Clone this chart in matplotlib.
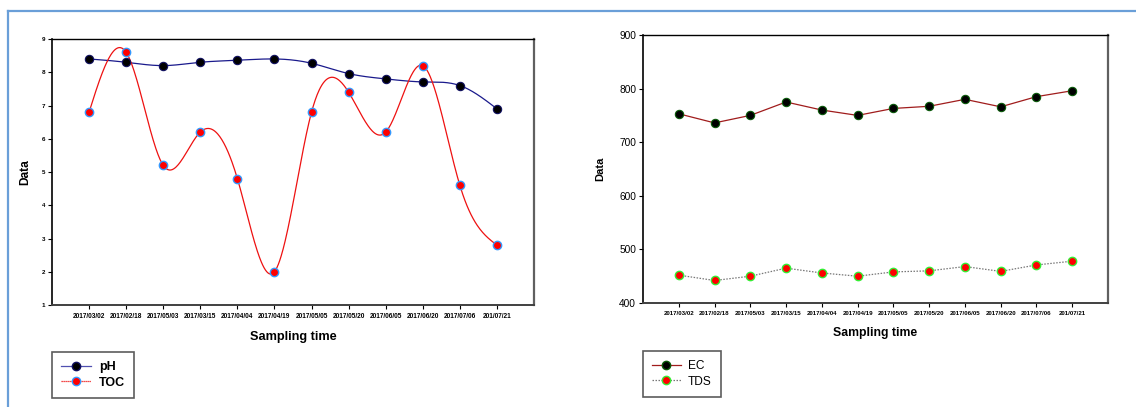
import numpy as np
import matplotlib
matplotlib.use("Agg")
import matplotlib.pyplot as plt
from matplotlib.lines import Line2D

plt.rcParams['font.family'] = ['Liberation Sans', 'DejaVu Sans']

dates = ["2017/03/02", "2017/02/18", "2017/05/03", "2017/03/15", "2017/04/04",
         "2017/04/19", "2017/05/05", "2017/05/20", "2017/06/05", "2017/06/20",
         "2017/07/06", "201/07/21"]
ph = [8.4, 8.3, 8.2, 8.3, 8.36, 8.4, 8.27, 7.96, 7.8, 7.71, 7.6, 6.9]
toc = [6.8, 8.6, 5.2, 6.2, 4.8, 2.0, 6.8, 7.4, 6.2, 8.2, 4.6, 2.8]
ec = [753, 736, 750, 775, 760, 750, 763, 767, 780, 766, 785, 796]
tds = [452, 442, 450, 465, 456, 450, 458, 460, 468, 459, 471, 478]


def natural_spline(x, y, n=600):
    # natural cubic spline, only used to draw the smooth connecting line
    x = np.asarray(x, float)
    y = np.asarray(y, float)
    k = len(x)
    h = np.diff(x)
    A = np.zeros((k, k))
    b = np.zeros(k)
    A[0, 0] = 1
    A[-1, -1] = 1
    for i in range(1, k - 1):
        A[i, i - 1] = h[i - 1]
        A[i, i] = 2 * (h[i - 1] + h[i])
        A[i, i + 1] = h[i]
        b[i] = 6 * ((y[i + 1] - y[i]) / h[i] - (y[i] - y[i - 1]) / h[i - 1])
    M = np.linalg.solve(A, b)
    xs = np.linspace(x[0], x[-1], n)
    idx = np.clip(np.searchsorted(x, xs) - 1, 0, k - 2)
    x0, x1 = x[idx], x[idx + 1]
    hh = x1 - x0
    t0 = x1 - xs
    t1 = xs - x0
    ys = (M[idx] * t0 ** 3 / (6 * hh) + M[idx + 1] * t1 ** 3 / (6 * hh)
          + (y[idx] / hh - M[idx] * hh / 6) * t0
          + (y[idx + 1] / hh - M[idx + 1] * hh / 6) * t1)
    return xs, ys


fig = plt.figure(figsize=(11.36, 4.07), dpi=100)

# blue outer frame (clipped on right and bottom)
frame_col = '#6a9fd8'
fig.add_artist(Line2D([8 / 1136, 1.0], [1 - 11 / 407, 1 - 11 / 407],
                      color=frame_col, lw=1.6, transform=fig.transFigure))
fig.add_artist(Line2D([8 / 1136, 8 / 1136], [0, 1 - 11 / 407],
                      color=frame_col, lw=1.6, transform=fig.transFigure))

x = np.arange(1, len(dates) + 1)


def style_axes(ax):
    ax.set_xlim(0, 13)
    ax.set_xticks(x)
    ax.set_xticklabels(dates, fontsize=4.7, fontweight='bold')
    ax.spines['top'].set_color('black')
    ax.spines['left'].set_color('black')
    ax.spines['top'].set_linewidth(1.0)
    ax.spines['left'].set_linewidth(1.2)
    ax.spines['right'].set_color('#606060')
    ax.spines['bottom'].set_color('#404040')
    ax.spines['right'].set_linewidth(1.6)
    ax.spines['bottom'].set_linewidth(1.4)
    ax.tick_params(axis='x', length=3, width=0.8, pad=3)
    ax.tick_params(axis='y', length=3, width=0.8, pad=2)


# left panel: pH and TOC
ax1 = fig.add_axes([52 / 1136, 1 - 305 / 407, 482 / 1136, 266 / 407])
xs, ys = natural_spline(x, ph)
ax1.plot(xs, ys, color='#1a1a8c', lw=0.9)
xs, ys = natural_spline(x, toc)
ax1.plot(xs, ys, color='#ee1111', lw=0.9)
ax1.plot(x, ph, 'o', ms=6, mfc='black', mec='#101060', mew=0.8)
ax1.plot(x, toc, 'o', ms=6, mfc='#ff0000', mec='#3399ff', mew=1.0)
ax1.set_ylim(1, 9)
ax1.set_yticks(range(1, 10))
ax1.set_yticklabels([str(v) for v in range(1, 10)], fontsize=4.5, fontweight='bold')
style_axes(ax1)
ax1.set_ylabel('Data', fontsize=8.6, fontweight='bold', labelpad=7.5)
ax1.set_xlabel('Sampling time', fontsize=9.2, fontweight='bold', labelpad=8)

h_ph = Line2D([], [], color='#5050b0', lw=0.9, marker='o', ms=6,
              mfc='black', mec='#101060')
h_toc = Line2D([], [], color='#ee1111', lw=0.9, ls=(0, (1, 0.6)), marker='o', ms=6,
               mfc='#ff0000', mec='#3399ff')
leg1 = fig.legend([h_ph, h_toc], ['pH', 'TOC'], loc='upper left',
                  bbox_to_anchor=(52 / 1136, 1 - 352 / 407),
                  prop={'size': 9, 'weight': 'bold'}, frameon=True, fancybox=False,
                  edgecolor='#333333', handlelength=2.4, handletextpad=0.6,
                  borderpad=0.75, labelspacing=0.25, borderaxespad=0)
leg1.get_frame().set_linewidth(1.2)

# right panel: EC and TDS
ax2 = fig.add_axes([643 / 1136, 1 - 303 / 407, 465 / 1136, 268 / 407])
ax2.plot(x, ec, color='#a01c1c', lw=0.9, marker='o', ms=6,
         mfc='black', mec='#0a5a0a', mew=0.8)
ax2.plot(x, tds, color='#777777', lw=0.9, ls=(0, (1.2, 1.2)), marker='o', ms=6,
         mfc='#ff0000', mec='#33ee33', mew=1.0)
ax2.set_ylim(400, 900)
ax2.set_yticks(range(400, 901, 100))
ax2.tick_params(axis='y', labelsize=7.3)
style_axes(ax2)
ax2.set_xticklabels(dates, fontsize=4.4, fontweight='bold')
ax2.set_ylabel('Data', fontsize=8, fontweight='bold', labelpad=10)
ax2.set_xlabel('Sampling time', fontsize=8.8, fontweight='bold', labelpad=8)

h_ec = Line2D([], [], color='#a01c1c', lw=0.9, marker='o', ms=6,
              mfc='black', mec='#0a5a0a')
h_tds = Line2D([], [], color='#777777', lw=0.9, ls=(0, (1.2, 1.2)), marker='o', ms=6,
               mfc='#ff0000', mec='#33ee33')
leg2 = fig.legend([h_ec, h_tds], ['EC', 'TDS'], loc='upper left',
                  bbox_to_anchor=(643 / 1136, 1 - 351 / 407),
                  prop={'size': 8.6}, frameon=True, fancybox=False,
                  edgecolor='#333333', handlelength=2.4, handletextpad=0.6,
                  borderpad=0.75, labelspacing=0.3, borderaxespad=0)
leg2.get_frame().set_linewidth(1.2)

fig.savefig('out.png', dpi=100)
